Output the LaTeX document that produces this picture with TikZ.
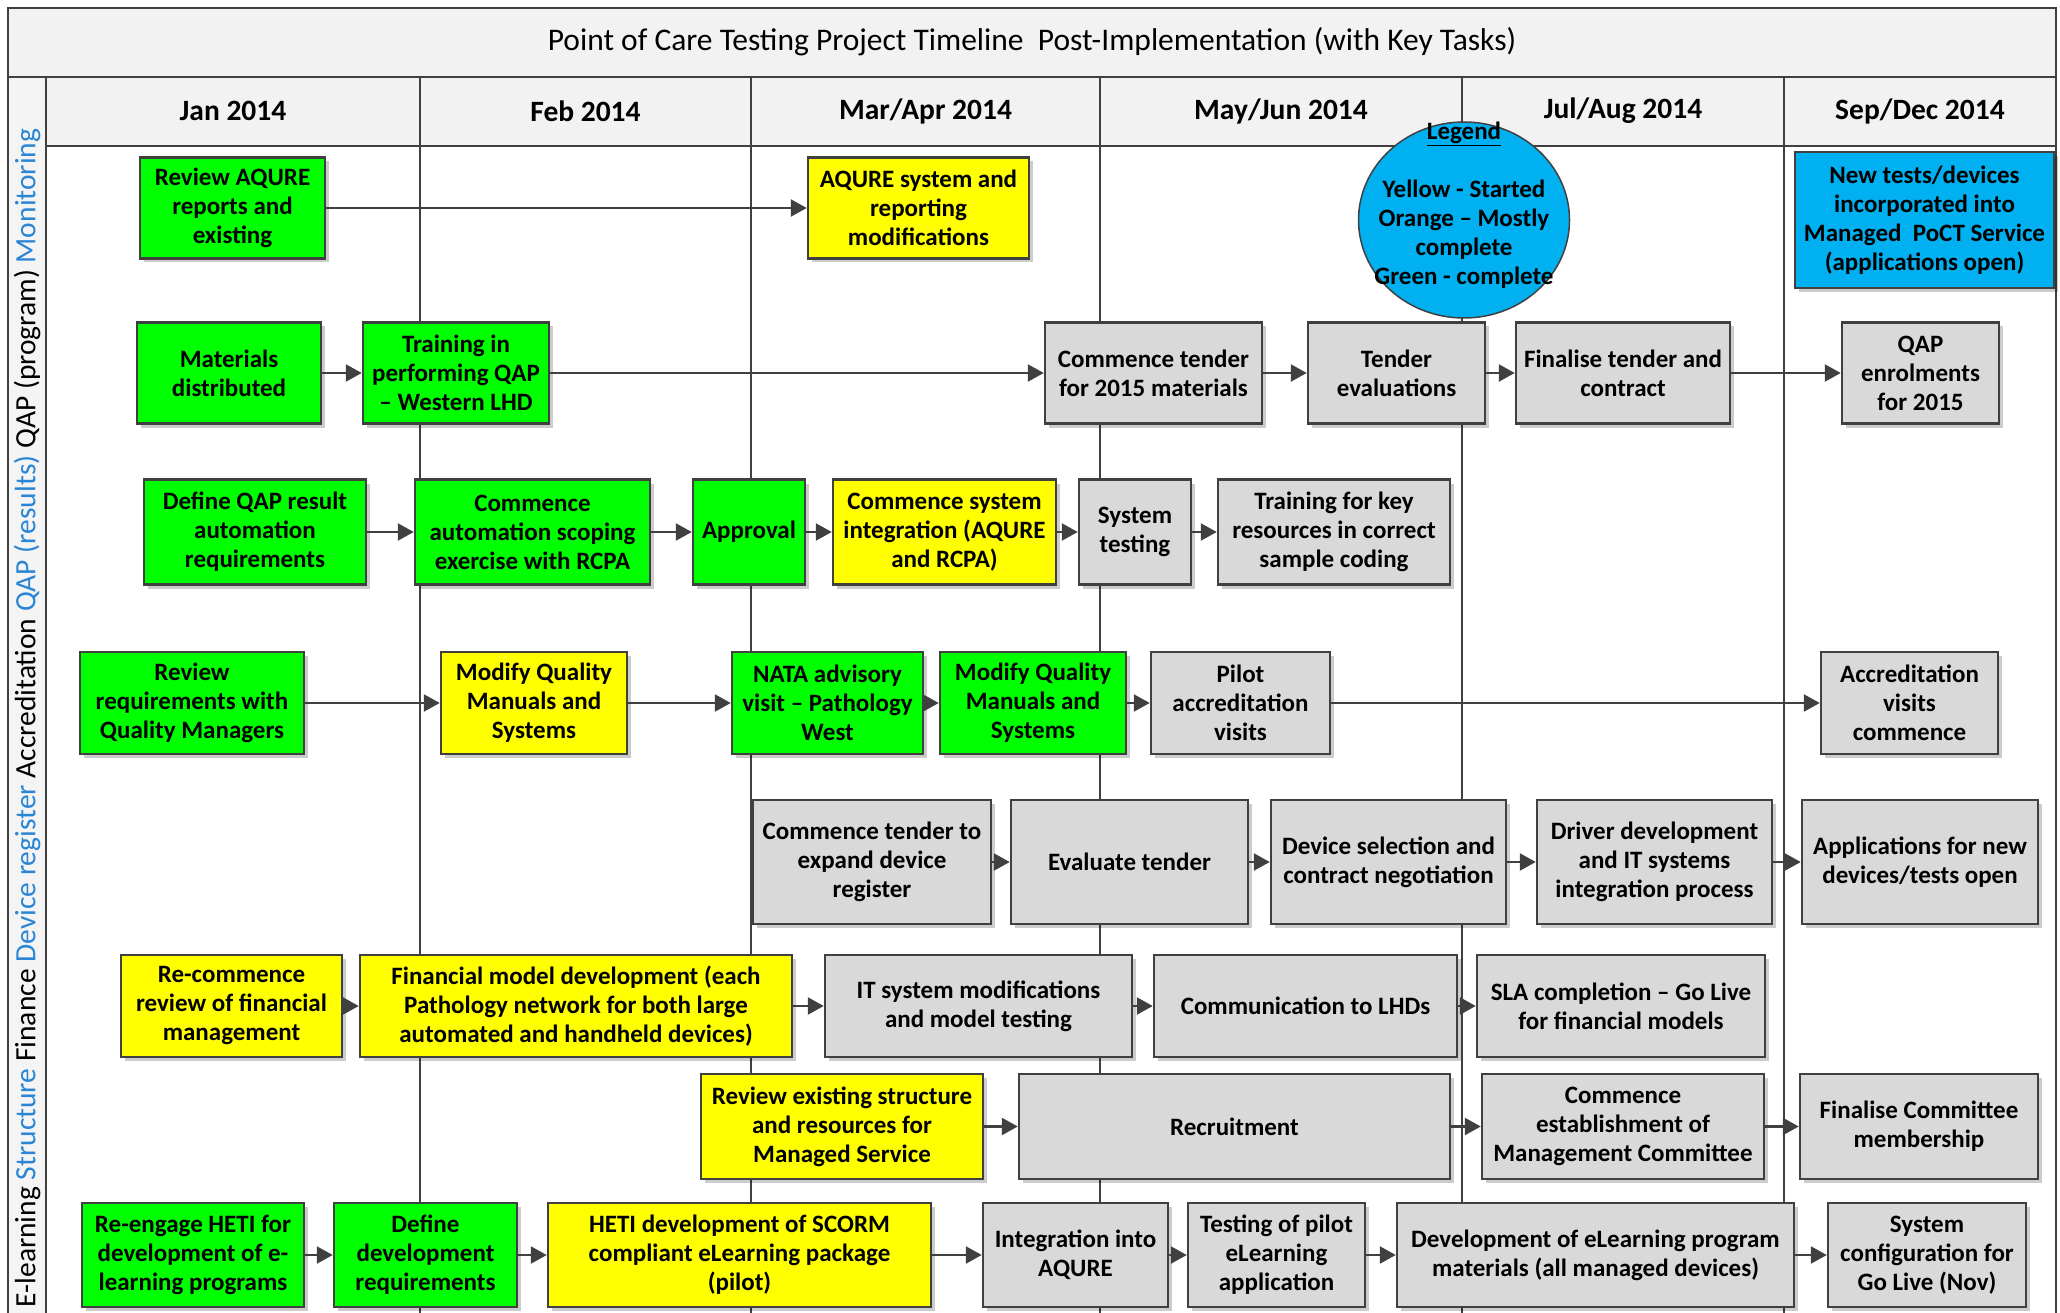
\documentclass[tikz,border=0pt]{standalone}
\usepackage{fontspec}
\setmainfont{Carlito}
\usetikzlibrary{arrows.meta}
\usetikzlibrary{shapes.geometric}
\usetikzlibrary{shadows}

\definecolor{framegray}{HTML}{404040}
\definecolor{headfill}{HTML}{F2F2F2}
\definecolor{lanefill}{HTML}{F4F4F4}
\definecolor{laneblue}{HTML}{2A85D4}
\definecolor{taskgreen}{HTML}{00FF00}
\definecolor{taskyellow}{HTML}{FFFF00}
\definecolor{taskgray}{HTML}{D9D9D9}
\definecolor{taskblue}{HTML}{00B0F0}

\tikzset{
  gridline/.style={draw=framegray, line width=2pt},
  task/.style={draw=framegray, line width=2.5pt, inner sep=0pt, align=center,
    font=\fontsize{25}{29}\selectfont\bfseries,
    drop shadow={shadow xshift=4pt, shadow yshift=-4pt, fill=black, opacity=0.2}},
  greentask/.style={task, fill=taskgreen},
  yellowtask/.style={task, fill=taskyellow},
  graytask/.style={task, fill=taskgray},
  bluetask/.style={task, fill=taskblue},
  flow/.style={draw=framegray, line width=2.5pt, -{Triangle[length=16pt, width=17pt]}},
  month/.style={font=\fontsize{29.5}{32}\selectfont\bfseries},
}

\begin{document}
\begin{tikzpicture}[x=1pt, y=-1pt]
\useasboundingbox (0,0) rectangle (2060,1313);

% title bar, month row and lane strip
\fill[headfill] (8,8) rectangle (2056,77);
\fill[headfill] (46,77) rectangle (2056,146);
\fill[lanefill] (8,77) rectangle (46,1313);
\draw[gridline] (8,1313) -- (8,8) -- (2056,8) -- (2056,1313);
\draw[gridline] (8,77) -- (2056,77);
\draw[gridline] (46,146) -- (2056,146);
\draw[gridline] (46,77) -- (46,1313);
\draw[gridline] (420,77) -- (420,1313);
\draw[gridline] (751,77) -- (751,1313);
\draw[gridline] (1100,77) -- (1100,1313);
\draw[gridline] (1462,77) -- (1462,1313);
\draw[gridline] (1784,77) -- (1784,1313);

\node[font=\fontsize{31.5}{34}\selectfont] (title) at (1032,42)
  {Point of Care Testing Project Timeline\ \ Post-Implementation (with Key Tasks)};

\node[month] (jan) at (233,111) {Jan 2014};
\node[month] (feb) at (585.5,111) {Feb 2014};
\node[month] (marapr) at (925.5,111) {Mar/Apr 2014};
\node[month] (mayjun) at (1281,111) {May/Jun 2014};
\node[month] (julaug) at (1623,111) {Jul/Aug 2014};
\node[month] (sepdec) at (1920,111) {Sep/Dec 2014};

\node[rotate=90, font=\fontsize{29.5}{29.5}\selectfont] (lanes) at (27,718)
  {E-learning \textcolor{laneblue}{Structure} Finance \textcolor{laneblue}{Device register}
   Accreditation \textcolor{laneblue}{QAP (results)} QAP (program) \textcolor{laneblue}{Monitoring}};

% legend
\node[ellipse, draw=framegray, line width=1.5pt, fill=taskblue, inner sep=0pt,
      minimum width=211pt, minimum height=196pt] (legend) at (1464,220) {};
\node[font=\fontsize{25}{29}\selectfont\bfseries, align=center] (legendtext) at (1464,205)
  {\underline{Legend}\\[29pt]Yellow - Started\\Orange – Mostly\\complete\\Green - complete};

% Monitoring
\begin{scope}[every node/.append style={minimum height=101pt}]
\node[greentask, minimum width=185pt] (mon1) at (232.5,208) {Review AQURE\\reports and\\existing};
\node[yellowtask, minimum width=221pt] (mon2) at (918.5,208) {AQURE system and\\reporting\\modifications};
\end{scope}
\node[bluetask, minimum width=259pt, minimum height=136pt] (newtests) at (1924.5,220)
  {New tests/devices\\incorporated into\\Managed\ \ PoCT Service\\(applications open)};
\draw[flow] (mon1) -- (mon2);

% QAP (program)
\begin{scope}[every node/.append style={minimum height=101pt}]
\node[greentask, minimum width=184pt] (qp1) at (229,373) {Materials\\distributed};
\node[greentask, minimum width=186pt] (qp2) at (456,373) {Training in\\performing QAP\\– Western LHD};
\node[graytask, minimum width=217pt] (qp3) at (1153.5,373) {Commence tender\\for 2015 materials};
\node[graytask, minimum width=177pt] (qp4) at (1396.5,373) {Tender\\evaluations};
\node[graytask, minimum width=214pt] (qp5) at (1623,373) {Finalise tender and\\contract};
\node[graytask, minimum width=157pt] (qp6) at (1920.5,373) {QAP\\enrolments\\for 2015};
\end{scope}
\draw[flow] (qp1) -- (qp2);
\draw[flow] (qp2) -- (qp3);
\draw[flow] (qp3) -- (qp4);
\draw[flow] (qp4) -- (qp5);
\draw[flow] (qp5) -- (qp6);

% QAP (results)
\begin{scope}[every node/.append style={minimum height=105pt}]
\node[greentask, minimum width=222pt] (qr1) at (255,532) {Define QAP result\\automation\\requirements};
\node[greentask, minimum width=235pt] (qr2) at (532.5,532) {Commence\\automation scoping\\exercise with RCPA};
\node[greentask, minimum width=112pt] (qr3) at (749,532) {Approval};
\node[yellowtask, minimum width=223pt] (qr4) at (944.5,532) {Commence system\\integration (AQURE\\and RCPA)};
\node[graytask, minimum width=112pt] (qr5) at (1135,532) {System\\testing};
\node[graytask, minimum width=232pt] (qr6) at (1334,532) {Training for key\\resources in correct\\sample coding};
\end{scope}
\draw[flow] (qr1) -- (qr2);
\draw[flow] (qr2) -- (qr3);
\draw[flow] (qr3) -- (qr4);
\draw[flow] (qr4) -- (qr5);
\draw[flow] (qr5) -- (qr6);

% Accreditation
\begin{scope}[every node/.append style={minimum height=102pt}]
\node[greentask, minimum width=224pt] (ac1) at (192,703) {Review\\requirements with\\Quality Managers};
\node[yellowtask, minimum width=186pt] (ac2) at (534,703) {Modify Quality\\Manuals and\\Systems};
\node[greentask, minimum width=191pt] (ac3) at (827.5,703) {NATA advisory\\visit – Pathology\\West};
\node[greentask, minimum width=186pt] (ac4) at (1033,703) {Modify Quality\\Manuals and\\Systems};
\node[graytask, minimum width=179pt] (ac5) at (1240.5,703) {Pilot\\accreditation\\visits};
\node[graytask, minimum width=177pt] (ac6) at (1909.5,703) {Accreditation\\visits\\commence};
\end{scope}
\draw[flow] (ac1) -- (ac2);
\draw[flow] (ac2) -- (ac3);
\draw[flow] (ac3) -- (ac4);
\draw[flow] (ac4) -- (ac5);
\draw[flow] (ac5) -- (ac6);

% Device register
\begin{scope}[every node/.append style={minimum height=124pt}]
\node[graytask, minimum width=238pt] (dv1) at (872,862) {Commence tender to\\expand device\\register};
\node[graytask, minimum width=237pt] (dv2) at (1129.5,862) {Evaluate tender};
\node[graytask, minimum width=235pt] (dv3) at (1388.5,862) {Device selection and\\contract negotiation};
\node[graytask, minimum width=235pt] (dv4) at (1654.5,862) {Driver development\\and IT systems\\integration process};
\node[graytask, minimum width=236pt] (dv5) at (1920,862) {Applications for new\\devices/tests open};
\end{scope}
\draw[flow] (dv1) -- (dv2);
\draw[flow] (dv2) -- (dv3);
\draw[flow] (dv3) -- (dv4);
\draw[flow] (dv4) -- (dv5);

% Finance
\begin{scope}[every node/.append style={minimum height=102pt}]
\node[yellowtask, minimum width=221pt] (fi1) at (231.5,1006) {Re-commence\\review of financial\\management};
\node[yellowtask, minimum width=432pt] (fi2) at (576,1006) {Financial model development (each\\Pathology network for both large\\automated and handheld devices)};
\node[graytask, minimum width=307pt] (fi3) at (978.5,1006) {IT system modifications\\and model testing};
\node[graytask, minimum width=303pt] (fi4) at (1305.5,1006) {Communication to LHDs};
\node[graytask, minimum width=288pt] (fi5) at (1621,1006) {SLA completion – Go Live\\for financial models};
\end{scope}
\draw[flow] (fi1) -- (fi2);
\draw[flow] (fi2) -- (fi3);
\draw[flow] (fi3) -- (fi4);
\draw[flow] (fi4) -- (fi5);

% Structure
\begin{scope}[every node/.append style={minimum height=105pt}]
\node[yellowtask, minimum width=282pt] (st1) at (842,1126.5) {Review existing structure\\and resources for\\Managed Service};
\node[graytask, minimum width=431pt] (st2) at (1234.5,1126.5) {Recruitment};
\node[graytask, minimum width=282pt] (st3) at (1623,1126.5) {Commence\\establishment of\\Management Committee};
\node[graytask, minimum width=238pt] (st4) at (1919,1126.5) {Finalise Committee\\membership};
\end{scope}
\draw[flow] (st1) -- (st2);
\draw[flow] (st2) -- (st3);
\draw[flow] (st3) -- (st4);

% E-learning
\begin{scope}[every node/.append style={minimum height=104pt}]
\node[greentask, minimum width=222pt] (el1) at (193,1255) {Re-engage HETI for\\development of e-\\learning programs};
\node[greentask, minimum width=183pt] (el2) at (425.5,1255) {Define\\development\\requirements};
\node[yellowtask, minimum width=383pt] (el3) at (739.5,1255) {HETI development of SCORM\\compliant eLearning package\\(pilot)};
\node[graytask, minimum width=185pt] (el4) at (1075.5,1255) {Integration into\\AQURE};
\node[graytask, minimum width=177pt] (el5) at (1276.5,1255) {Testing of pilot\\eLearning\\application};
\node[graytask, minimum width=397pt] (el6) at (1595.5,1255) {Development of eLearning program\\materials (all managed devices)};
\node[graytask, minimum width=198pt] (el7) at (1927,1255) {System\\configuration for\\Go Live (Nov)};
\end{scope}
\draw[flow] (el1) -- (el2);
\draw[flow] (el2) -- (el3);
\draw[flow] (el3) -- (el4);
\draw[flow] (el4) -- (el5);
\draw[flow] (el5) -- (el6);
\draw[flow] (el6) -- (el7);
\end{tikzpicture}
\end{document}
